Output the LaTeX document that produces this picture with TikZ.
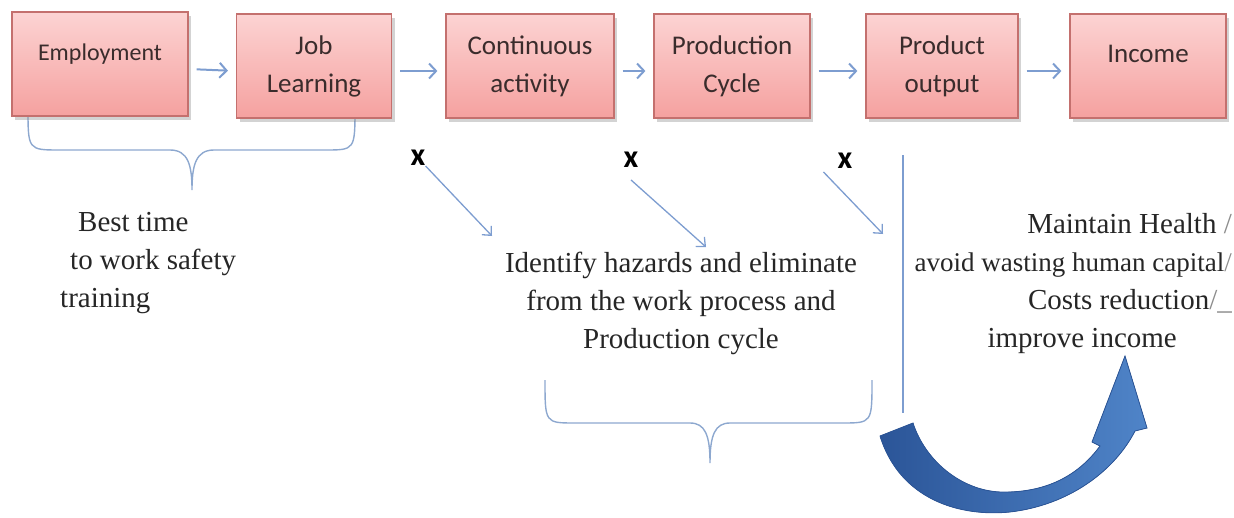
\documentclass[tikz,border=0pt]{standalone}
\usepackage{fontspec}
\setmainfont{Liberation Serif}
\newfontfamily\boxfont{Carlito}
\usetikzlibrary{arrows.meta,shadows}
\definecolor{boxtop}{HTML}{FCD3D3}
\definecolor{boxbot}{HTML}{F5A19F}
\definecolor{boxline}{HTML}{C4706E}
\definecolor{boxtxt}{HTML}{3A2C2C}
\definecolor{flowblue}{HTML}{7D9DD0}
\definecolor{braceblue}{HTML}{8DA8CF}
\definecolor{bigdark}{HTML}{2B5598}
\definecolor{biglight}{HTML}{4F84C8}
\begin{document}
\begin{tikzpicture}[x=1pt,y=-1pt]
\newlength{\boxh}
\setlength{\boxh}{104pt}

\tikzset{
  box_s/.style = {align=center, inner sep=0pt, text centered,
    font=\boxfont\fontsize{27}{38}\selectfont, text=boxtxt,
    draw=boxline, line width=1.2pt, top color=boxtop, bottom color=boxbot,
    minimum height=\boxh,
    drop shadow={opacity=0.35, shadow xshift=3pt, shadow yshift=-4pt}},
  flow_s/.style = {draw=flowblue, line width=2pt,
    -{Straight Barb[length=7pt,width=15pt]}, shorten <=8pt, shorten >=8pt},
  hint_s/.style = {draw=flowblue, line width=1.3pt,
    -{Straight Barb[length=7pt,width=13pt]}},
  brace_s/.style = {draw=braceblue, line width=1.4pt},
  txt_s/.style = {inner sep=0pt, text=black!85,
    font=\fontsize{29}{38}\selectfont},
  x_s/.style = {inner sep=0pt, font=\boxfont\bfseries\fontsize{32}{32}\selectfont}
}
\useasboundingbox (0,0) rectangle (1234,517);

% braces under the boxes
\draw [brace_s] (28,108) .. controls (28,150) and (28,150) .. (60,150) -- (170,150)
  .. controls (188,150) and (192,165) .. (192,190)
  .. controls (192,165) and (196,150) .. (214,150) -- (325,150)
  .. controls (355,150) and (355,150) .. (355,107);
\draw [brace_s] (545,380) .. controls (545,423) and (545,423) .. (575,423) -- (690,423)
  .. controls (705,423) and (710,435) .. (710,463)
  .. controls (710,435) and (715,423) .. (730,423) -- (842,423)
  .. controls (872,423) and (872,423) .. (872,380);

% chain of boxes
\node [box_s, minimum width=176pt, font=\boxfont\fontsize{24}{38}\selectfont]
  (emp) at (100,64) {Employment\\[-14pt]\mbox{}};
\node [box_s, minimum width=155pt] (job) at (314,66) {Job\\Learning};
\node [box_s, minimum width=168pt] (cont) at (530,66) {Continuous\\activity};
\node [box_s, minimum width=156pt] (prod) at (732,66) {Production\\Cycle};
\node [box_s, minimum width=152pt] (outp) at (942,66) {Product\\output};
\node [box_s, minimum width=156pt] (inc) at (1148,66) {Income\\[-14pt]\mbox{}};

\foreach \a/\b in {emp/job, job/cont, cont/prod, prod/outp, outp/inc}
  \draw [flow_s] ([yshift=-5pt]\a.east) -- ([yshift=-5pt]\b.west);

% hazard marks
\node [x_s] (x1) at (418,158) {x};
\node [x_s] (x2) at (631,160) {x};
\node [x_s] (x3) at (845,161) {x};
\coordinate (t1) at (492,236);
\coordinate (t2) at (706,247);
\coordinate (t3) at (883,234);
\draw [hint_s] (x1.south east) -- (t1);
\draw [hint_s] ([yshift=-12pt]x2.south) -- (t2);
\draw [hint_s] ([xshift=-14pt,yshift=-3pt]x3.south west) -- (t3);

\draw [draw=flowblue, line width=1.2pt] (903,155) -- (903,413);

% texts
\node [txt_s, align=left, anchor=north west] (best) at (60,212)
  {\hspace*{18pt}Best time\\\hspace*{10pt}to work safety\\training};
\node [txt_s, align=center, anchor=north] (ident) at (681,252)
  {Identify hazards and eliminate\\from the work process and\\Production cycle};
\node [txt_s, align=right, anchor=north east] (keep) at (1232,213)
  {Maintain Health {\color{black!45}/}\\
   {\fontsize{27}{38}\selectfont avoid wasting human capital{\color{black!45}/}}\\
   Costs reduction{\color{black!45}/\_}\\
   improve income\hspace*{55pt}};

% big curved arrow
\fill [left color=bigdark, right color=biglight, draw=bigdark, line width=0.8pt]
  (880,436) .. controls (900,500) and (960,517) .. (1010,512)
  .. controls (1070,505) and (1115,470) .. (1135,431)
  -- (1147,428) -- (1125,356) -- (1092,442) -- (1100,446)
  .. controls (1075,480) and (1040,493) .. (1000,492)
  .. controls (960,490) and (925,460) .. (913,423) -- cycle;
\end{tikzpicture}
\end{document}
